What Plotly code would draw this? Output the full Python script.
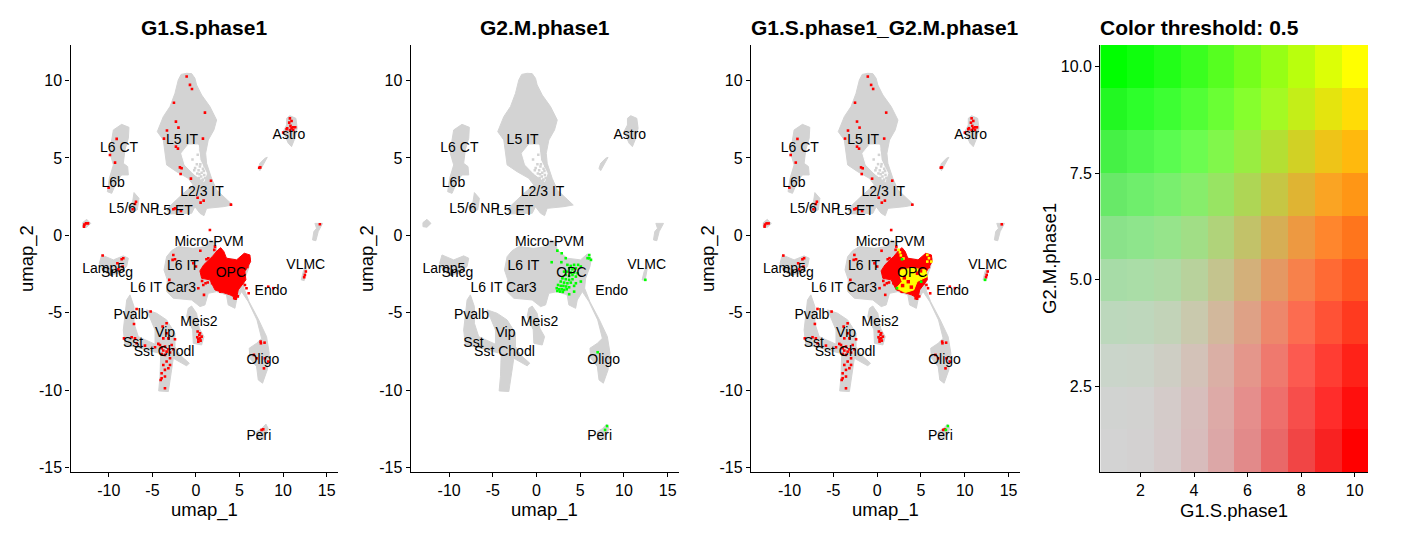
import plotly.graph_objects as go

W, H = 1417, 535
FONT = "Liberation Sans"
GREY = "#d3d3d3"

# ---- grey UMAP cell clouds (outlines), umap_1 / umap_2
L5IT_X = [-1.07,-0.5,-0.12,0.07,0.65,1.6,2.37,2.06,1.41,1.11,1.22,1.79,2.37,3.13,4.2,3.13,1.22,0.92,0.46,-0.12,-0.5,-3.0,-3.37,-1.45,-0.31,-0.88,-2.22,-3.37,-3.56,-3.75,-4.44,-3.75,-2.98,-2.41,-2.03,-1.7]
L5IT_Y = [10.47,10.45,10.15,9.72,9.07,8.32,7.45,6.81,6.16,5.3,4.65,3.68,2.93,2.5,1.96,1.85,1.74,1.27,1.42,1.85,1.42,1.38,1.68,2.71,3.25,3.68,4.11,4.55,5.52,6.16,6.7,7.67,8.32,9.18,10.04,10.4]
HOLE_X = [-1.65,-0.88,0.27,0.46,1.22,0.92,-0.31,-1.26]
HOLE_Y = [5.3,5.84,5.84,4.87,4.0,3.47,4.0,4.55]
SPECK_X = [0.5,0.8,0.3,0.95,0.6,0.1,0.75,1.0,0.2,0.55,-0.1,0.4,-0.4,0.9,0.65,0.35,1.05,0.8,0.15,0.45,-0.2]
SPECK_Y = [4.6,4.3,4.2,3.9,3.8,4.6,3.55,4.5,5.2,5.5,4.35,3.95,4.9,4.15,4.05,3.7,3.7,3.6,4.0,4.45,4.2]
L6CT_X = [-8.53,-7.69,-7.76,-8.15,-8.34,-7.84,-7.76,-8.53,-9.1,-9.67,-10.17,-9.94,-9.48,-9.87,-9.67,-9.48]
L6CT_Y = [7.17,6.98,6.27,5.52,4.65,4.44,3.9,3.9,3.47,2.71,2.82,3.68,4.55,5.3,6.16,6.81]
NP_X = [-7.11,-6.54,-6.73,-7.5,-7.76,-7.27]
NP_Y = [2.76,2.39,1.64,1.49,1.85,2.17]
DOT_X = [-12.54,-12.08,-12.54,-13.0,-13.0]
DOT_Y = [1.03,0.77,0.52,0.56,0.82]
ASTRO_X = [10.78,11.47,11.62,11.35,10.97,10.59,10.01,10.4,10.4]
ASTRO_Y = [7.73,7.56,6.92,6.27,5.73,5.95,6.7,7.13,7.56]
SLIVER_X = [8.18,7.72,7.34,7.15,7.34,7.91]
SLIVER_Y = [5.04,4.55,4.18,4.33,4.65,4.98]
VLMC_A_X = [13.65,14.53,14.03,13.76,13.38,13.53,13.84]
VLMC_A_Y = [0.77,0.77,0.24,-0.35,-0.3,0.24,0.45]
VLMC_B_X = [12.77,12.61,12.42,12.08,12.31]
VLMC_B_Y = [-1.81,-2.45,-2.93,-2.88,-2.35]
LAMP_X = [-10.82,-9.48,-8.34,-7.76,-7.95,-8.91,-9.87,-10.63,-11.09]
LAMP_Y = [-1.27,-1.59,-1.33,-1.48,-2.02,-2.45,-2.56,-2.35,-1.81]
CORE_X = [-2.03,-0.31,1.22,1.6,2.18,2.37,3.5,5.04,5.81,6.27,6.11,5.62,5.5,6.1,7.2,8.1,8.41,8.18,7.64,7.15,6.96,6.19,6.11,6.96,7.53,7.0,6.0,5.24,4.66,4.47,3.7,3.5,2.37,1.41,1.03,0.46,-0.5,-2.6,-3.37,-3.29,-3.67,-3.37,-2.79]
CORE_Y = [-0.73,-0.84,-0.73,-0.3,-0.4,-0.94,-1.48,-1.59,-1.2,-1.48,-2.02,-2.78,-3.42,-4.29,-5.47,-6.55,-7.63,-8.7,-9.56,-9.35,-8.49,-7.95,-7.3,-6.98,-6.66,-5.47,-4.29,-3.64,-4.18,-4.72,-4.5,-3.85,-3.64,-3.75,-4.5,-4.61,-4.18,-4.07,-3.64,-2.88,-2.24,-1.38,-0.99]
MEIS_X = [-0.5,0.07,0.38,0.92,0.65,-0.31,-0.38,-1.07,-0.88]
MEIS_Y = [-4.57,-5.04,-6.01,-6.55,-7.09,-6.98,-6.1,-5.25,-4.72]
PVALB_X = [-7.57,-7.11,-7.11,-6.62,-4.51,-4.4,-6.42,-8.15,-8.34,-8.15,-7.95]
PVALB_Y = [-3.85,-4.61,-5.69,-6.55,-7.09,-7.6,-7.3,-7.09,-6.12,-5.04,-4.18]
VIP_X = [-5.66,-4.51,-3.37,-2.41,-2.41,-1.84,-0.77,-1.07,-2.6,-2.79,-3.17,-4.28,-4.13,-4.05,-4.7,-4.7,-5.28]
VIP_Y = [-4.82,-5.04,-5.47,-6.33,-7.19,-7.73,-8.27,-8.44,-7.95,-8.7,-10.1,-10.06,-9.13,-7.73,-7.09,-6.12,-5.36]
PERI_X = [8.03,8.29,7.72,6.96,6.96,7.53]
PERI_Y = [-12.2,-12.5,-13.2,-13.2,-12.7,-12.5]

CLOUDS = [(L5IT_X,L5IT_Y),(L6CT_X,L6CT_Y),(NP_X,NP_Y),(DOT_X,DOT_Y),(ASTRO_X,ASTRO_Y),(SLIVER_X,SLIVER_Y),
          (VLMC_A_X,VLMC_A_Y),(VLMC_B_X,VLMC_B_Y),(LAMP_X,LAMP_Y),(CORE_X,CORE_Y),(MEIS_X,MEIS_Y),
          (PVALB_X,PVALB_Y),(VIP_X,VIP_Y),(PERI_X,PERI_Y)]

# ---- cells above threshold
OPC_X = [0.9,1.88,2.5,2.84,3.2,3.5,4.66,5.54,6.19,6.27,5.62,5.73,4.85,4.66,3.9,2.18,1.6,0.65,0.45]
OPC_Y = [-1.9,-1.37,-0.95,-0.8,-1.05,-1.48,-1.59,-1.16,-1.27,-1.7,-2.35,-2.88,-3.53,-4.07,-3.85,-3.53,-2.88,-2.78,-2.3]
RED_X = [-1.07,-0.69,-0.46,-2.53,1.03,-2.3,-3.33,-2.01,-3.67,0.8,-2.3,-2.07,-1.84,-1.65,-1.76,-0.58,1.72,0.19,0.88,0.53,4.01,-2.6,-2.41,-1.72,-6.88,-7.0,-7.27,-9.1,-9.87,-9.29,-10.02,
         10.78,10.97,10.7,11.16,11.39,10.97,10.47,10.78,10.01,10.4,11.16,10.85,7.38,7.26,14.22,-12.85,-12.62,-12.39,-12.81,1.6,
         -10.71,-9.02,-8.53,-8.34,-8.41,-8.91,-2.6,-2.68,-2.41,0.0,-0.31,0.84,0.92,0.27,-3.06,2.1,1.41,2.18,8.29,8.87,4.39,5.62,5.8,12.61,12.42,12.5,
         -6.81,-5.2,-7.11,-8.26,-7.38,-7.0,-6.81,-5.85,-4.7,-3.37,-3.83,-3.37,-3.17,-3.75,-2.41,-2.79,-4.13,-4.32,
         -3.94,-3.56,-3.17,-3.75,-3.37,-2.98,-3.94,-2.6,-3.56,-2.98,-3.37,-2.98,-3.75,-3.17,-3.56,-3.94,-3.56,-3.94,-4.05,-3.56,
         0.19,0.38,0.46,0.15,0.65,0.27,0.53,0.27,0.46,7.45,7.87,7.42,6.65,6.96,7.91,7.8,8.29,7.72,7.53,
         1.1,1.35,0.7,0.95,0.5,5.9,5.3,5.0,6.05,4.8,4.55,4.3,2.8,2.45,1.85,1.2]
RED_Y = [10.26,9.72,9.46,8.57,7.93,7.35,6.77,6.96,6.25,6.25,5.73,5.6,4.39,4.33,3.96,3.66,3.53,2.43,2.24,2.11,1.98,1.68,1.74,1.57,2.17,2.02,1.68,6.23,5.19,4.7,3.08,
         7.56,7.39,7.28,6.98,6.98,6.92,6.92,6.81,6.64,6.85,6.81,7.07,4.39,4.37,0.71,0.56,0.77,0.77,0.69,0.34,
         -1.31,-1.81,-1.55,-1.48,-2.02,-2.2,-1.27,-1.59,-1.55,-2.02,-1.81,-3.21,-3.85,-3.42,-2.88,-0.94,-1.48,-0.73,-3.32,-3.42,-4.07,-3.21,-3.42,-2.34,-2.71,-2.56,
         -4.76,-4.93,-5.73,-6.66,-6.59,-6.66,-6.98,-7.13,-7.24,-5.69,-5.9,-6.33,-6.66,-6.66,-6.72,-7.09,-7.09,-7.02,
         -7.3,-7.19,-7.37,-7.45,-7.52,-7.58,-7.67,-7.37,-7.73,-7.95,-8.16,-8.38,-8.38,-8.59,-8.7,-8.92,-9.13,-9.24,-9.35,-9.89,
         -6.22,-6.44,-6.66,-6.59,-6.55,-6.87,-6.81,-6.72,-6.33,-6.98,-6.94,-6.87,-7.73,-7.95,-7.95,-8.6,-8.16,-12.54,-12.58,
         -3.1,-3.05,-2.95,-2.6,-1.0,-2.05,-3.1,-1.95,-3.75,-3.95,-4.1,-3.75,-3.65,-3.3,-3.1,-1.55]
GREEN_X = [2.38,2.88,3.34,1.73,2.84,6.03,6.03,6.23,5.84,3.53,3.92,4.3,4.76,5.07,3.73,4.11,4.5,3.15,3.53,3.92,4.3,4.69,3.34,3.73,4.11,4.5,2.96,3.34,3.73,4.11,5.07,2.77,3.15,3.53,3.92,4.5,2.46,2.77,3.07,3.38,3.73,4.3,2.31,2.58,2.88,3.15,3.45,4.3,2.38,2.69,3.0,3.73,12.45,6.99,8.07,7.84]
GREEN_Y = [-0.99,-1.16,-1.48,-1.74,-1.74,-1.27,-1.48,-1.59,-1.48,-1.91,-1.98,-1.91,-1.91,-2.02,-2.13,-2.2,-2.13,-2.35,-2.35,-2.41,-2.41,-2.45,-2.56,-2.63,-2.56,-2.67,-2.78,-2.84,-2.88,-2.84,-2.99,-2.99,-3.06,-3.1,-3.06,-3.1,-3.21,-3.27,-3.27,-3.31,-3.36,-3.27,-3.42,-3.49,-3.49,-3.53,-3.49,-3.64,-3.6,-3.64,-3.66,-3.81,-2.88,-7.56,-12.33,-12.58]
YELLOW_X = [2.72,3.99,5.52,5.72,4.56,4.18,3.22,2.19,2.84,2.57]
YELLOW_Y = [-2.24,-2.13,-2.24,-2.67,-2.99,-3.53,-3.7,-3.42,-2.99,-2.56]
YELLOW_DOT_X = [2.45,2.6,2.7,3.0,5.72,5.91,6.18,5.72]
YELLOW_DOT_Y = [-0.94,-1.1,-1.3,-1.5,-1.27,-1.48,-1.7,-1.7]
MIX_RED_X = [4.6,4.95,3.1,3.9,3.55,2.9]
MIX_RED_Y = [-2.45,-2.3,-2.75,-3.35,-3.0,-3.25]
MIX_GREEN_X = [2.84,2.26,5.02,12.31,8.07,7.84]
MIX_GREEN_Y = [-1.55,-3.42,-3.0,-2.88,-12.33,-12.58]

# ---- cluster labels
LABELS = ["L6 CT","L5 IT","Astro","L6b","L2/3 IT","L5/6 NP","L5 ET","Micro-PVM","L6 IT","OPC","VLMC","Lamp5","Sncg","L6 IT Car3","Endo","Pvalb","Meis2","Vip","Sst","Sst Chodl","Oligo","Peri"]
LABEL_X = [-8.83,-1.6,10.67,-9.5,0.69,-7.1,-2.5,1.5,-1.5,4.0,12.6,-10.6,-9.06,-3.78,8.6,-7.45,0.34,-3.55,-7.22,-3.67,7.68,7.22]
LABEL_Y = [5.58,6.10,6.42,3.32,2.74,1.64,1.57,-0.49,-2.04,-2.5,-1.98,-2.23,-2.5,-3.46,-3.66,-5.21,-5.66,-6.32,-7.02,-7.6,-8.12,-13.03]

# ---- blend legend: rows run from G2.M.phase1 = 1 to 10, columns G1.S.phase1 = 1 to 10
RED_ROWS = [
 [211,211,213,216,220,226,233,241,248,255],
 [209,210,212,215,221,229,238,247,255,255],
 [202,203,206,211,218,228,239,252,255,255],
 [188,190,194,201,210,222,237,252,255,255],
 [167,170,175,184,196,211,228,247,255,255],
 [138,142,150,161,176,194,214,237,255,255],
 [104,111,121,135,152,174,198,223,250,255],
 [69,78,90,108,129,153,180,209,238,255],
 [34,45,61,82,106,134,164,196,228,255],
 [0,15,34,58,86,117,150,185,220,255]]
GREEN_ROWS = [
 [211,209,202,188,167,138,104,69,34,0],
 [211,210,203,190,170,142,111,78,45,15],
 [213,212,206,194,175,150,121,90,61,34],
 [216,215,211,201,184,161,135,108,82,58],
 [220,221,218,210,196,176,152,129,106,86],
 [226,229,228,222,211,194,174,153,134,117],
 [233,238,239,237,228,214,198,180,164,150],
 [241,247,252,252,247,237,223,209,196,185],
 [248,255,255,255,255,255,250,238,228,220],
 [255,255,255,255,255,255,255,255,255,255]]
BLUE_ROWS = [
 [211,209,202,188,167,138,104,69,34,0],
 [209,208,201,188,167,140,108,75,43,13],
 [202,201,196,184,165,139,110,80,51,24],
 [188,188,184,173,156,134,107,80,54,31],
 [167,167,165,156,142,122,99,75,52,32],
 [138,140,139,134,122,105,85,65,45,28],
 [104,108,110,107,99,85,68,51,35,21],
 [69,75,80,80,75,65,51,37,24,13],
 [34,43,51,54,52,45,35,24,14,6],
 [0,13,24,31,32,28,21,13,6,0]]
LEVELS = list(range(1, 11))

XRANGE = [-14.4, 16.3]
YRANGE = [-15.3, 12.3]
XTICKS = [-10, -5, 0, 5, 10, 15]
XTICK_TEXT = ["-10", "-5", "0", "5", "10", "15"]
YTICKS = [-15, -10, -5, 0, 5, 10]
YTICK_TEXT = ["-15", "-10", "-5", "0", "5", "10"]
HEAT_X_TICKS = [2, 4, 6, 8, 10]
HEAT_Y_TICKS = [2.5, 5, 7.5, 10]
HEAT_Y_TEXT = ["2.5", "5.0", "7.5", "10.0"]
TITLES = ["G1.S.phase1", "G2.M.phase1", "G1.S.phase1_G2.M.phase1"]
X_LABELS = ["umap_1", "umap_1", "umap_1", "G1.S.phase1"]
Y_LABELS = ["umap_2", "umap_2", "umap_2", "G2.M.phase1"]
Y_LABEL_PX = [27, 367, 708, 1049]

PANEL_PX = [(70.5, 338), (410.7, 679), (751, 1020), (1100.3, 1368)]
TOP_PX, BOTTOM_PX = 45, 472
ydom = [(H - BOTTOM_PX) / H, (H - TOP_PX) / H]

fig = go.Figure()


def poly(xs, ys, color, ax):
    fig.add_trace(go.Scatter(x=xs + xs[:1], y=ys + ys[:1], mode="lines", fill="toself", fillcolor=color,
                             line=dict(color=color, width=1), hoverinfo="skip", showlegend=False,
                             xaxis=f"x{ax}", yaxis=f"y{ax}"))


def dots(xs, ys, color, ax, size=2.6):
    fig.add_trace(go.Scatter(x=xs, y=ys, mode="markers", marker=dict(color=color, size=size, symbol="square", line_width=0),
                             hoverinfo="skip", showlegend=False, xaxis=f"x{ax}", yaxis=f"y{ax}"))


for ax in (1, 2, 3):
    for xs, ys in CLOUDS:
        poly(xs, ys, GREY, ax)
    poly(HOLE_X, HOLE_Y, "white", ax)
    dots(SPECK_X, SPECK_Y, GREY, ax, 2.5)
    if ax in (1, 3):
        poly(OPC_X, OPC_Y, "#ff0000", ax)
        dots(RED_X, RED_Y, "#ff0000", ax)
    if ax == 2:
        dots(GREEN_X, GREEN_Y, "#00ff00", ax)
    if ax == 3:
        poly(YELLOW_X, YELLOW_Y, "#ffff00", ax)
        dots(YELLOW_DOT_X, YELLOW_DOT_Y, "#ffff00", ax)
        dots(MIX_RED_X, MIX_RED_Y, "#ff0000", ax, 3.5)
        dots(MIX_GREEN_X, MIX_GREEN_Y, "#00ff00", ax)
    fig.add_trace(go.Scatter(x=LABEL_X, y=LABEL_Y, text=LABELS, mode="text", textposition="middle center",
                             textfont=dict(family=FONT, size=14, color="black"), hoverinfo="skip", showlegend=False,
                             xaxis=f"x{ax}", yaxis=f"y{ax}"))

# every legend cell gets its own stop on a stepped colour scale
colors = [f"rgb({r},{g},{b})" for rr, gg, bb in zip(RED_ROWS, GREEN_ROWS, BLUE_ROWS) for r, g, b in zip(rr, gg, bb)]
n = len(colors)
scale = []
for k, c in enumerate(colors):
    scale += [[k / n, c], [(k + 1) / n, c]]
cell_id = [[j * 10 + i + 0.5 for i in range(10)] for j in range(10)]
fig.add_trace(go.Heatmap(z=cell_id, x=LEVELS, y=LEVELS, zmin=0, zmax=n, colorscale=scale, showscale=False,
                         hoverinfo="skip", xaxis="x4", yaxis="y4"))

axis_style = dict(showgrid=False, zeroline=False, showline=True, linecolor="black", linewidth=1.3,
                  ticks="outside", ticklen=4, tickwidth=1.3, tickcolor="black",
                  tickfont=dict(family=FONT, size=16, color="black"))
title_font = dict(family=FONT, size=18.5, color="black")
layout = {}
for i, (l, r) in enumerate(PANEL_PX, start=1):
    xd = dict(domain=[l / W, r / W], anchor=f"y{i}", **axis_style)
    yd = dict(domain=ydom, anchor=f"x{i}", **axis_style)
    if i < 4:
        xd.update(range=XRANGE, tickvals=XTICKS, ticktext=XTICK_TEXT)
        yd.update(range=YRANGE, tickvals=YTICKS, ticktext=YTICK_TEXT)
    else:
        xd.update(range=[0.5, 10.5], tickvals=HEAT_X_TICKS)
        yd.update(range=[0.5, 10.5], tickvals=HEAT_Y_TICKS, ticktext=HEAT_Y_TEXT)
    layout["xaxis" if i == 1 else f"xaxis{i}"] = xd
    layout["yaxis" if i == 1 else f"yaxis{i}"] = yd

annotations = []
for (l, r), t in zip(PANEL_PX[:3], TITLES):
    annotations.append(dict(text=f"<b>{t}</b>", x=(l + r) / 2 / W, y=(H - 27) / H, xref="paper", yref="paper", xanchor="center", yanchor="middle",
                            showarrow=False, font=dict(family=FONT, size=21, color="black")))
annotations.append(dict(text="<b>Color threshold: 0.5</b>", x=(PANEL_PX[3][0] - 2) / W, y=(H - 27) / H, xref="paper", yref="paper", xanchor="left", yanchor="middle",
                        showarrow=False, font=dict(family=FONT, size=21, color="black")))
for (l, r), xl, yl, ypx in zip(PANEL_PX, X_LABELS, Y_LABELS, Y_LABEL_PX):
    annotations.append(dict(text=xl, x=(l + r) / 2 / W, y=(H - 510) / H, xref="paper", yref="paper", xanchor="center", yanchor="middle",
                            showarrow=False, font=title_font))
    annotations.append(dict(text=yl, x=ypx / W, y=(H - 259) / H, xref="paper", yref="paper", xanchor="center", yanchor="middle",
                            textangle=-90, showarrow=False, font=title_font))

fig.update_layout(width=W, height=H, margin=dict(l=0, r=0, t=0, b=0, autoexpand=False), plot_bgcolor="white", paper_bgcolor="white",
                  showlegend=False, annotations=annotations, **layout)
fig.write_html("out.html", config=dict(displayModeBar=False), post_script="document.body.style.margin='0';")
